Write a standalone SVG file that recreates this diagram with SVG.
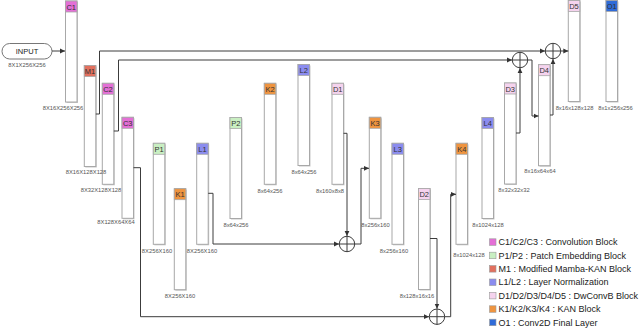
<svg xmlns="http://www.w3.org/2000/svg" width="640" height="329" viewBox="0 0 640 329">
<defs>
<marker id="ah" markerUnits="userSpaceOnUse" markerWidth="6" markerHeight="6" refX="5" refY="3" orient="auto">
<path d="M0,0.6 L5,3 L0,5.4 Z" fill="#333"/>
</marker>
</defs>
<style>
.body{fill:#fff;stroke:#a8a8a8;stroke-width:1}
.shadow{fill:#9a9a9a;opacity:0.55}
.hd{stroke:#a8a8a8;stroke-width:0.8}
.hl{font-family:"Liberation Sans",Arial,sans-serif;font-size:7.5px;fill:#333;text-anchor:middle}
.dim{font-family:"Liberation Sans",Arial,sans-serif;font-size:5.8px;fill:#555;text-anchor:middle}
.leg{font-family:"Liberation Sans",Arial,sans-serif;font-size:9px;fill:#222}
.c{fill:#e46fd6}.m{fill:#e2705e}.p{fill:#c9efc2}.l{fill:#8b8cef}.d{fill:#f5d3ee}.k{fill:#ef943f}.o{fill:#2f6bd8}
.conn{fill:none;stroke:#3c3c3c;stroke-width:1}
.sum{fill:#fff;stroke:#3c3c3c;stroke-width:1}
</style>

<g id="input">
<rect x="2" y="43.5" width="50" height="15.5" rx="7.7" fill="#fff" stroke="#777" stroke-width="1"/>
<text x="27" y="54" font-family="Liberation Sans, Arial, sans-serif" font-size="7.5" fill="#222" text-anchor="middle">INPUT</text>
<text class="dim" x="27" y="67">8X1X256X256</text>
</g>

<g id="C1">
<rect class="shadow" x="66.5" y="2" width="11.5" height="101"/>
<rect class="body" x="65.5" y="1" width="11.5" height="101"/>
<rect class="hd c" x="65.5" y="1" width="11.5" height="11"/>
<text class="hl" x="71.25" y="9.6">C1</text>
<text class="dim" x="63" y="110">8X16X256X256</text>
</g>
<g id="C2">
<rect class="shadow" x="103.3" y="84.3" width="11.5" height="101"/>
<rect class="body" x="102.3" y="83.3" width="11.5" height="101"/>
<rect class="hd c" x="102.3" y="83.3" width="11.5" height="11"/>
<text class="hl" x="108" y="91.9">C2</text>
<text class="dim" x="101" y="192">8X32X128X128</text>
</g>
<g id="M1">
<rect class="shadow" x="85.3" y="66.5" width="11.5" height="101"/>
<rect class="body" x="84.3" y="65.5" width="11.5" height="101"/>
<rect class="hd m" x="84.3" y="65.5" width="11.5" height="11"/>
<text class="hl" x="90" y="74.1">M1</text>
<text class="dim" x="86" y="174">8X16X128X128</text>
</g>
<g id="C3">
<rect class="shadow" x="123" y="118.3" width="11.5" height="101"/>
<rect class="body" x="122" y="117.3" width="11.5" height="101"/>
<rect class="hd c" x="122" y="117.3" width="11.5" height="11"/>
<text class="hl" x="127.75" y="125.9">C3</text>
<text class="dim" x="116" y="224">8X128X64X64</text>
</g>
<g id="P1">
<rect class="shadow" x="154.3" y="144.3" width="11.5" height="101"/>
<rect class="body" x="153.3" y="143.3" width="11.5" height="101"/>
<rect class="hd p" x="153.3" y="143.3" width="11.5" height="11"/>
<text class="hl" x="159" y="151.9">P1</text>
<text class="dim" x="157" y="253">8X256X160</text>
</g>
<g id="K1">
<rect class="shadow" x="175.3" y="189.7" width="11.5" height="101"/>
<rect class="body" x="174.3" y="188.7" width="11.5" height="101"/>
<rect class="hd k" x="174.3" y="188.7" width="11.5" height="11"/>
<text class="hl" x="180" y="197.3">K1</text>
<text class="dim" x="180" y="298">8X256X160</text>
</g>
<g id="L1">
<rect class="shadow" x="197.7" y="144.3" width="11.5" height="101"/>
<rect class="body" x="196.7" y="143.3" width="11.5" height="101"/>
<rect class="hd l" x="196.7" y="143.3" width="11.5" height="11"/>
<text class="hl" x="202.4" y="151.9">L1</text>
<text class="dim" x="202" y="253">8X256X160</text>
</g>
<g id="P2">
<rect class="shadow" x="231" y="118.5" width="11.5" height="101"/>
<rect class="body" x="230" y="117.5" width="11.5" height="101"/>
<rect class="hd p" x="230" y="117.5" width="11.5" height="11"/>
<text class="hl" x="235.75" y="126.1">P2</text>
<text class="dim" x="236" y="226.5">8x64x256</text>
</g>
<g id="K2">
<rect class="shadow" x="265.3" y="84.3" width="11.5" height="101"/>
<rect class="body" x="264.3" y="83.3" width="11.5" height="101"/>
<rect class="hd k" x="264.3" y="83.3" width="11.5" height="11"/>
<text class="hl" x="270" y="91.9">K2</text>
<text class="dim" x="270" y="192.5">8x64x256</text>
</g>
<g id="L2">
<rect class="shadow" x="299" y="65.5" width="11.5" height="101"/>
<rect class="body" x="298" y="64.5" width="11.5" height="101"/>
<rect class="hd l" x="298" y="64.5" width="11.5" height="11"/>
<text class="hl" x="303.75" y="73.1">L2</text>
<text class="dim" x="304" y="173.5">8x64x256</text>
</g>
<g id="D1">
<rect class="shadow" x="333" y="84.3" width="11.5" height="101"/>
<rect class="body" x="332" y="83.3" width="11.5" height="101"/>
<rect class="hd d" x="332" y="83.3" width="11.5" height="11"/>
<text class="hl" x="337.75" y="91.9">D1</text>
<text class="dim" x="330" y="192.5">8x160x8x8</text>
</g>
<g id="K3">
<rect class="shadow" x="370.3" y="118.3" width="11.5" height="101"/>
<rect class="body" x="369.3" y="117.3" width="11.5" height="101"/>
<rect class="hd k" x="369.3" y="117.3" width="11.5" height="11"/>
<text class="hl" x="375" y="125.9">K3</text>
<text class="dim" x="375.5" y="226.5">8x256x160</text>
</g>
<g id="L3">
<rect class="shadow" x="393" y="144.3" width="11.5" height="101"/>
<rect class="body" x="392" y="143.3" width="11.5" height="101"/>
<rect class="hd l" x="392" y="143.3" width="11.5" height="11"/>
<text class="hl" x="397.75" y="151.9">L3</text>
<text class="dim" x="394" y="253">8x256x160</text>
</g>
<g id="D2">
<rect class="shadow" x="419.5" y="189.5" width="11.5" height="101"/>
<rect class="body" x="418.5" y="188.5" width="11.5" height="101"/>
<rect class="hd d" x="418.5" y="188.5" width="11.5" height="11"/>
<text class="hl" x="424.25" y="197.1">D2</text>
<text class="dim" x="417" y="298">8x128x16x16</text>
</g>
<g id="K4">
<rect class="shadow" x="457" y="144.3" width="11.5" height="101"/>
<rect class="body" x="456" y="143.3" width="11.5" height="101"/>
<rect class="hd k" x="456" y="143.3" width="11.5" height="11"/>
<text class="hl" x="461.75" y="151.9">K4</text>
<text class="dim" x="469" y="257">8x1024x128</text>
</g>
<g id="L4">
<rect class="shadow" x="483" y="118.5" width="11.5" height="101"/>
<rect class="body" x="482" y="117.5" width="11.5" height="101"/>
<rect class="hd l" x="482" y="117.5" width="11.5" height="11"/>
<text class="hl" x="487.75" y="126.1">L4</text>
<text class="dim" x="488" y="226.5">8x1024x128</text>
</g>
<g id="D3">
<rect class="shadow" x="505.5" y="84" width="11.5" height="101"/>
<rect class="body" x="504.5" y="83" width="11.5" height="101"/>
<rect class="hd d" x="504.5" y="83" width="11.5" height="11"/>
<text class="hl" x="510.25" y="91.6">D3</text>
<text class="dim" x="514" y="192">8x32x32x32</text>
</g>
<g id="D4">
<rect class="shadow" x="539.5" y="65.7" width="11.5" height="101"/>
<rect class="body" x="538.5" y="64.7" width="11.5" height="101"/>
<rect class="hd d" x="538.5" y="64.7" width="11.5" height="11"/>
<text class="hl" x="544.25" y="73.3">D4</text>
<text class="dim" x="540" y="173">8x16x64x64</text>
</g>
<g id="D5">
<rect class="shadow" x="569.3" y="1.5" width="11.5" height="101"/>
<rect class="body" x="568.3" y="0.5" width="11.5" height="101"/>
<rect class="hd d" x="568.3" y="0.5" width="11.5" height="11"/>
<text class="hl" x="574" y="9.1">D5</text>
<text class="dim" x="574.5" y="110">8x16x128x128</text>
</g>
<g id="O1">
<rect class="shadow" x="607" y="1.5" width="11.5" height="101"/>
<rect class="body" x="606" y="0.5" width="11.5" height="101"/>
<rect class="hd o" x="606" y="0.5" width="11.5" height="11"/>
<text class="hl" x="611.75" y="9.1">O1</text>
<text class="dim" x="615.5" y="110">8x1x256x256</text>
</g>

<g id="sum1"><circle class="sum" cx="347" cy="244" r="7.7"/><path class="conn" d="M339.3,244 H354.7 M347,236.3 V251.7"/></g>
<g id="sum2"><circle class="sum" cx="437" cy="316.7" r="7.7"/><path class="conn" d="M429.3,316.7 H444.7 M437,309 V324.4"/></g>
<g id="sum3"><circle class="sum" cx="520" cy="60" r="7.7"/><path class="conn" d="M512.3,60 H527.7 M520,52.3 V67.7"/></g>
<g id="sum4"><circle class="sum" cx="553" cy="51" r="7.7"/><path class="conn" d="M545.3,51 H560.7 M553,43.3 V58.7"/></g>

<g id="connectors">
<path class="conn" d="M52,51 H65" marker-end="url(#ah)"/>
<path class="conn" stroke-width="1.3" d="M95.8,114 H99.5 V51 H545" marker-end="url(#ah)"/>
<path class="conn" stroke-width="1.3" d="M113.8,131 H118.5 V60 H512" marker-end="url(#ah)"/>
<path class="conn" d="M133.5,167.7 H140.5 V316.7 H429" marker-end="url(#ah)"/>
<path class="conn" d="M208.2,193.3 H213 V244 H339" marker-end="url(#ah)"/>
<path class="conn" d="M343.5,133.3 H347 V236" marker-end="url(#ah)"/>
<path class="conn" d="M354.7,244 H361 V168.3 H369" marker-end="url(#ah)"/>
<path class="conn" d="M430,238.5 H437 V308.7" marker-end="url(#ah)"/>
<path class="conn" d="M444.7,316.7 H450.7 V194.3 H456" marker-end="url(#ah)"/>
<path class="conn" d="M516,133 H520 V68" marker-end="url(#ah)"/>
<path class="conn" d="M527.7,60 H532 V116 H538.5" marker-end="url(#ah)"/>
<path class="conn" d="M550,115 H553 V59" marker-end="url(#ah)"/>
<path class="conn" d="M560.7,51 H568.3" marker-end="url(#ah)"/>
</g>

<g id="legend">
<rect class="c" x="489.5" y="238.8" width="6.5" height="6.5" stroke="#999" stroke-width="0.6"/>
<text class="leg" x="498.5" y="245.2">C1/C2/C3 : Convolution Block</text>
<rect class="p" x="489.5" y="252.2" width="6.5" height="6.5" stroke="#999" stroke-width="0.6"/>
<text class="leg" x="498.5" y="258.6">P1/P2 : Patch Embedding Block</text>
<rect class="m" x="489.5" y="265.6" width="6.5" height="6.5" stroke="#999" stroke-width="0.6"/>
<text class="leg" x="498.5" y="272">M1 : Modified Mamba-KAN Block</text>
<rect class="l" x="489.5" y="279" width="6.5" height="6.5" stroke="#999" stroke-width="0.6"/>
<text class="leg" x="498.5" y="285.4">L1/L2 : Layer Normalization</text>
<rect class="d" x="489.5" y="292.4" width="6.5" height="6.5" stroke="#999" stroke-width="0.6"/>
<text class="leg" x="498.5" y="298.8">D1/D2/D3/D4/D5 : DwConvB Block</text>
<rect class="k" x="489.5" y="305.8" width="6.5" height="6.5" stroke="#999" stroke-width="0.6"/>
<text class="leg" x="498.5" y="312.2">K1/K2/K3/K4 : KAN Block</text>
<rect class="o" x="489.5" y="319.2" width="6.5" height="6.5" stroke="#999" stroke-width="0.6"/>
<text class="leg" x="498.5" y="325.6">O1 : Conv2D Final Layer</text>
</g>
</svg>
